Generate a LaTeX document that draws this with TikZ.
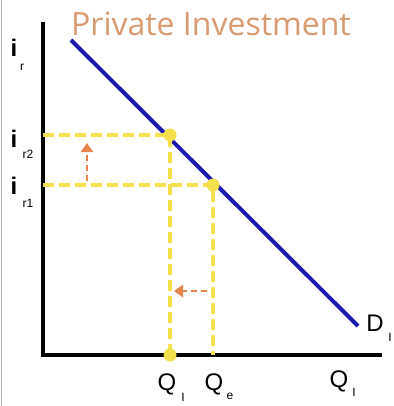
\documentclass[tikz,border=0pt]{standalone}
\usepackage{fontspec}
\setmainfont{Liberation Sans}
\newfontfamily\titlefont{Open Sans}
\usetikzlibrary{arrows.meta}
\definecolor{ylw}{HTML}{F4E04C}
\definecolor{org}{HTML}{E8844E}
\definecolor{ttl}{HTML}{D99A70}
\definecolor{blu}{HTML}{1A1AB0}
\tikzset{
  axis/.style={line width=4pt, black},
  guide/.style={ylw, line width=3.5pt, dash pattern=on 11pt off 5pt},
  pt/.style={circle, fill=ylw, inner sep=0pt, minimum size=13pt},
  shiftarrow/.style={org, line width=2.5pt, dash pattern=on 6pt off 4pt, -{Triangle[length=9pt,width=12pt]}},
  lbl/.style={inner sep=0pt, font=\fontsize{24}{24}\selectfont},
  sublbl/.style={inner sep=0pt, font=\fontsize{12}{12}\selectfont},
}
\begin{document}
\begin{tikzpicture}[x=1pt,y=-1pt]
\useasboundingbox (0,0) rectangle (393,406);
\draw[gray!60, line width=1pt] (1,0) -- (1,406);
\node[text=ttl, font=\titlefont\fontsize{32}{32}\selectfont, inner sep=0pt] (title) at (211,24) {Private Investment};
% axes
\coordinate (o) at (43,355);
\coordinate (ytop) at (43,22);
\coordinate (xend) at (382,355);
\draw[axis] (ytop) -- (o) -- (xend);
% demand line
\coordinate (d1) at (71,40);
\coordinate (d2) at (358,326);
\draw[blu, line width=4pt] (d1) -- (d2);
% points
\coordinate (p2) at (170,135);
\coordinate (p1) at (213,185);
\coordinate (y2) at (43,135);
\coordinate (y1) at (43,185);
\coordinate (x2) at (170,355);
\coordinate (x1) at (213,355);
\draw[guide] (y2) -- (p2) -- (x2);
\draw[guide] (y1) -- (p1) -- (x1);
\node[pt] (dp2) at (p2) {};
\node[pt] (dp1) at (p1) {};
\node[pt] (dx2) at (x2) {};
% shift arrows
\coordinate (a1) at (87,181);
\coordinate (a2) at (87,143);
\draw[shiftarrow] (a1) -- (a2);
\coordinate (b1) at (207,291);
\coordinate (b2) at (174,291);
\draw[shiftarrow] (b1) -- (b2);
% labels
\node[lbl] (ir) at (14,48) {\textbf{i}};
\node[sublbl] (irs) at (22,67) {r};
\node[lbl] (ir2) at (14,139) {\textbf{i}};
\node[sublbl] (ir2s) at (28,154) {r2};
\node[lbl] (ir1) at (14,186) {\textbf{i}};
\node[sublbl] (ir1s) at (28,203) {r1};
\node[lbl] (q1) at (167,384) {Q};
\node[sublbl] (q1s) at (183,397) {I};
\node[lbl] (qe) at (214,384) {Q};
\node[sublbl] (qes) at (230,396) {e};
\node[lbl] (qi) at (339,381) {Q};
\node[sublbl] (qis) at (354,392) {I};
\node[lbl] (di) at (375,323) {D};
\node[sublbl] (dis) at (390,337) {I};
\end{tikzpicture}
\end{document}
